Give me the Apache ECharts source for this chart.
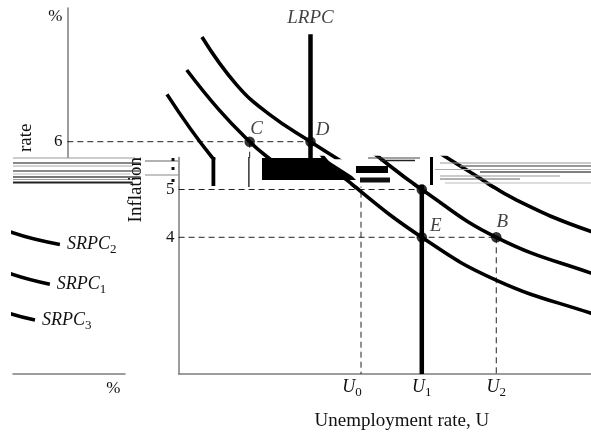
<!DOCTYPE html>
<html><head><meta charset="utf-8">
<script src="https://cdn.jsdelivr.net/npm/echarts@6/dist/echarts.min.js"></script>
<style>html,body{margin:0;padding:0;background:#fff}#c{width:591px;height:433px}</style>
</head><body><div id="c"></div>
<script>
// ---------- data (U in arbitrary units, inflation in %) ----------
const srpc1 = [[3.93,7.50],[5.0,6.66],[6.0,6.0],[6.56,5.69],[8.0,5.0],[10.45,4.0],[13.57,3.25],[14.91,3.02]];
const srpc2 = [[4.43,8.19],[5.57,7.19],[6.67,6.56],[8.0,6.0],[9.6,5.36],[11.12,4.78],[13.57,4.12],[15.24,3.85]];
const srpc3 = [[3.28,6.99],[4.75,5.68],[5.53,5.2],[8.0,4.0],[10.46,3.1],[13.57,2.41],[14.42,2.27]];
const curveSubs = ['1','2','3'];
const lrpcU = 8;
const lrpcTop = 8.25;
const pointNames = ['C','D','A','E','B'];
const pointValues = [[6,6],[8,6],[8,5],[8,4],[10.45,4]];
const xTickValues = [6, 8, 10.45];
const xTickSubs = ['0','1','2'];
const yTickValuesTop = [6];
const yTickValuesBottom = [5, 4];
const pctTopAt = 8.62;   // "%" beside top of inflation axis
const pctRightAt = 17.0; // "%" under end of unemployment axis
const guidesH = [[6,0,8],[5,0,8],[4,0,10.45]]; // [inflation, fromU, toU]
const guidesV = [[6,6],[10.45,4]];             // [U, fromInflation] down to axis

// ---------- layout (pixel scale of the picture) ----------
const S = {X0:178.6, KX:30.4, Y5:189.5, KY:47.8};
function rect(left, top, right, bottom, sx){
  return {left, top, width:right-left, height:bottom-top,
    xmin:(left+sx-S.X0)/S.KX, xmax:(right+sx-S.X0)/S.KX,
    ymax:5+(S.Y5-top)/S.KY, ymin:5-(bottom-S.Y5)/S.KY};
}
const G = [
  rect(67.5, 8, 591, 157.5, 111.3),   // 0: upper strip (shifted)
  rect(178.6, 157.5, 591, 187, 0),    // 1: glitch band
  rect(178.6, 187, 591, 374, 0),      // 2: lower strip
  rect(13, 187, 125, 374, 582)        // 3: wrapped right end
];
const FONT = 'Liberation Serif';
const INK = '#111';
const AXIS = '#7d7d7d';
const axisLine = {show:true, onZero:false, lineStyle:{color:AXIS, width:1.5}};
const yBottomVal = G[2].ymin;

const chart = echarts.init(document.getElementById('c'), null, {renderer:'canvas', width:591, height:433});

const grids = G.map(g => ({left:g.left, top:g.top, width:g.width, height:g.height, containLabel:false, outerBoundsMode:'none'}));

const subRich = {
  u:{fontFamily:FONT, fontStyle:'italic', fontSize:18, color:INK},
  s:{fontFamily:FONT, fontSize:13, color:INK, padding:[11,0,0,0]},
  sL:{fontFamily:FONT, fontSize:13, color:INK, padding:[11,18,0,0]}
};

const xAxes = G.map((g,i) => {
  const base = {gridIndex:i, type:'value', min:g.xmin, max:g.xmax, splitLine:{show:false}, axisTick:{show:false}};
  if (i === 2) return Object.assign(base, {
    axisLine,
    axisLabel:{customValues:xTickValues, margin:1, rich:subRich,
      formatter:(v)=>{ let k=0; xTickValues.forEach((t,j)=>{ if(Math.abs(t-v)<1e-6) k=j; });
        return '{u|U}{' + (k===0?'sL':'s') + '|' + xTickSubs[k] + '}'; }},
    name:'Unemployment rate, U', nameLocation:'middle', nameGap:38,
    nameTextStyle:{fontFamily:FONT, fontSize:19, color:INK, padding:[0,0,0,34]}
  });
  if (i === 3) return Object.assign(base, {
    axisLine,
    axisLabel:{customValues:[pctRightAt], margin:6, formatter:()=>'%', fontFamily:FONT, fontSize:17, color:INK}
  });
  return Object.assign(base, {show:false});
});

const yAxes = G.map((g,i) => {
  const base = {gridIndex:i, type:'value', min:g.ymin, max:g.ymax, splitLine:{show:false}, axisTick:{show:false}};
  if (i === 0) return Object.assign(base, {
    axisLine,
    axisLabel:{customValues:yTickValuesTop.concat([pctTopAt]), margin:5, fontFamily:FONT, fontSize:17, color:INK,
      formatter:(v)=> Math.abs(v-pctTopAt)<1e-6 ? '%' : String(v)}
  });
  if (i === 1) return Object.assign(base, {axisLine, axisLabel:{show:false}});
  if (i === 2) return Object.assign(base, {
    axisLine,
    axisLabel:{customValues:yTickValuesBottom, margin:4, fontFamily:FONT, fontSize:17, color:INK}
  });
  return Object.assign(base, {show:false});
});

const series = [];
const curves = [srpc1, srpc2, srpc3];
function curveSeries(gi, data, k){
  const s = {type:'line', xAxisIndex:gi, yAxisIndex:gi, data, smooth:0.45,
    showSymbol:false, symbol:'none', clip:true, silent:true, animation:false,
    lineStyle:{color:'#000', width:3.6}};
  if (gi === 3) s.endLabel = {show:true, distance:7, rich:{
      i:{fontFamily:FONT, fontStyle:'italic', fontSize:18, color:INK},
      s:{fontFamily:FONT, fontSize:13, color:INK, padding:[11,0,0,0]}},
    formatter:()=> '{i|SRPC}{s|' + curveSubs[k] + '}'};
  return s;
}
[0,1,2,3].forEach(gi => curves.forEach((c,k) => series.push(curveSeries(gi, c, k))));

const dash = {color:'#222', width:1, type:[6,4]};
[0,2].forEach(gi => {
  guidesH.forEach(h => series.push({type:'line', xAxisIndex:gi, yAxisIndex:gi, data:[[h[1],h[0]],[h[2],h[0]]],
    showSymbol:false, symbol:'none', clip:true, silent:true, animation:false, lineStyle:dash, z:1}));
  guidesV.forEach(v => series.push({type:'line', xAxisIndex:gi, yAxisIndex:gi, data:[[v[0],v[1]],[v[0],yBottomVal]],
    showSymbol:false, symbol:'none', clip:true, silent:true, animation:false, lineStyle:dash, z:1}));
  series.push({type:'line', xAxisIndex:gi, yAxisIndex:gi, data:[[lrpcU,yBottomVal],[lrpcU,lrpcTop]],
    showSymbol:false, symbol:'none', clip:true, silent:true, animation:false, lineStyle:{color:'#000', width:4.5}, z:3});
});
// LRPC label
series.push({type:'scatter', xAxisIndex:0, yAxisIndex:0, data:[[lrpcU, lrpcTop]], symbolSize:0, silent:true, animation:false,
  itemStyle:{color:'#000'}, label:{show:true, position:'top', distance:7, formatter:'LRPC', fontFamily:FONT, fontStyle:'italic', fontSize:19, color:INK}});

const labelOffsets = {C:[7,-13], D:[12,-12], A:[0,0], E:[14,-11], B:[6,-15]};
[0,2].forEach(gi => {
  series.push({type:'scatter', xAxisIndex:gi, yAxisIndex:gi, clip:true, silent:true, animation:false, z:5,
    symbolSize:10.5, itemStyle:{color:'#000'},
    data: pointValues.map((v,j)=>({name:pointNames[j], value:v,
      label:{show: pointNames[j] !== 'A', position:'inside', offset:labelOffsets[pointNames[j]]}})),
    label:{formatter:(p)=>p.name, fontFamily:FONT, fontStyle:'italic', fontSize:19, color:INK}});
});

// glitch band decorations
const gl = [];
function hl(x1,x2,y,w,c){ gl.push({type:'rect', shape:{x:x1,y:y-w/2,width:x2-x1,height:w}, style:{fill:c}, z:50, silent:true}); }
hl(13,135,158,1,'#999'); hl(13,140,163,2,'#888'); hl(13,132,166,1,'#aaa');
hl(13,140,171,2,'#8a8a8a'); hl(13,130,174,1,'#bbb'); hl(13,140,177,2,'#777');
hl(13,135,179.5,1,'#999'); hl(13,132,182.5,2,'#222');
hl(145,178,161,1,'#666'); hl(145,178,175,1,'#888');
gl.push({type:'rect', shape:{x:171.5,y:158,width:3,height:3}, style:{fill:'#111'}, z:50, silent:true});
gl.push({type:'rect', shape:{x:171.5,y:167,width:3,height:3}, style:{fill:'#111'}, z:50, silent:true});
gl.push({type:'rect', shape:{x:171.5,y:179,width:3,height:3}, style:{fill:'#111'}, z:50, silent:true});
gl.push({type:'rect', shape:{x:211.5,y:157,width:3.8,height:29}, style:{fill:'#000'}, z:50, silent:true});
gl.push({type:'rect', shape:{x:248.3,y:157,width:1.2,height:30}, style:{fill:'#000'}, z:50, silent:true});
gl.push({type:'polygon', shape:{points:[[262,158],[324,158],[352,176],[356,180],[262,180]]}, style:{fill:'#000'}, z:50, silent:true});
gl.push({type:'rect', shape:{x:356,y:166,width:32,height:7}, style:{fill:'#000'}, z:50, silent:true});
gl.push({type:'rect', shape:{x:360,y:177.5,width:30,height:5}, style:{fill:'#111'}, z:50, silent:true});
gl.push({type:'rect', shape:{x:430,y:157,width:3,height:28}, style:{fill:'#000'}, z:50, silent:true});
hl(368,420,158,1,'#444'); hl(380,415,160.5,1.5,'#222'); hl(440,591,163,1,'#999');
hl(460,591,166,1.5,'#777'); hl(435,591,169.5,1,'#aaa'); hl(480,591,172,1.5,'#555');
hl(440,560,176,1,'#999'); hl(440,520,179,1,'#666'); hl(445,591,183,1,'#bbb');
// split y-axis name
gl.push({type:'text', x:146, y:157, rotation:Math.PI/2, z:60, silent:true,
  style:{text:'Inflation', fill:INK, font:'19px "Liberation Serif"', align:'right', verticalAlign:'bottom'}});
gl.push({type:'text', x:36, y:152, rotation:Math.PI/2, z:60, silent:true,
  style:{text:'rate', fill:INK, font:'19px "Liberation Serif"', align:'left', verticalAlign:'bottom'}});

chart.setOption({
  animation:false,
  backgroundColor:'#fff',
  grid:grids, xAxis:xAxes, yAxis:yAxes, series, graphic:{elements:gl}
});
</script></body></html>
